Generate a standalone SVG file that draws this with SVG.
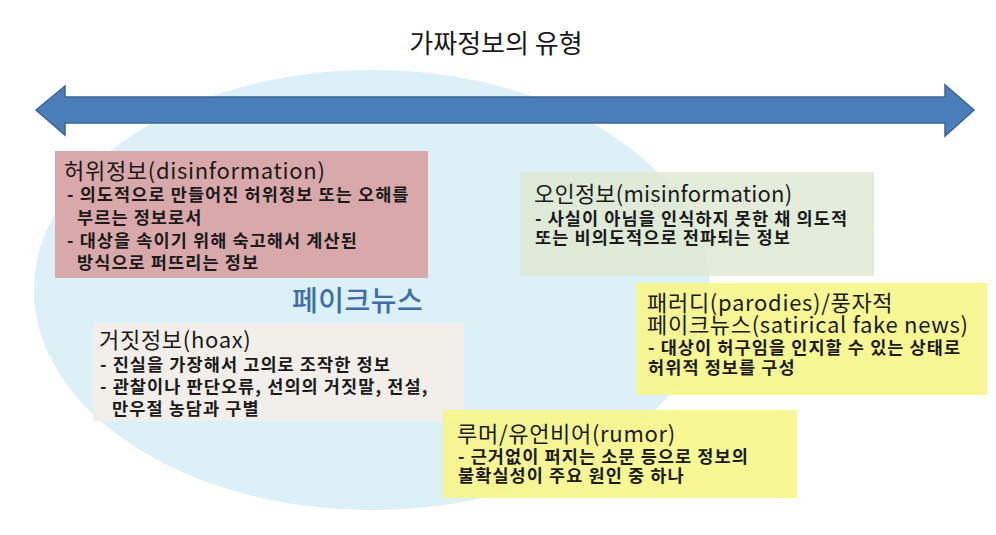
<svg xmlns="http://www.w3.org/2000/svg" width="996" height="535" viewBox="0 0 996 535">
<style>
text{font-family:"Noto Sans CJK KR","Noto Sans",sans-serif;fill:#1a1a1a}
.h{font-size:22px;font-weight:400;letter-spacing:0.7px}
.b{font-size:17.5px;font-weight:700;letter-spacing:1.1px}
.title{font-size:26px;font-weight:400}
.fk{font-size:28px;font-weight:500;fill:#3d6ea8;letter-spacing:0.5px}
</style>
<rect width="996" height="535" fill="#ffffff"/>
<g id="fake-news-area">
<ellipse cx="372" cy="290" rx="338" ry="220" fill="#dcf0f8"/>
<text class="fk" x="292" y="311">페이크뉴스</text>
</g>
<g id="title">
<text class="title" x="496" y="53" text-anchor="middle">가짜정보의 유형</text>
</g>
<g id="connectors">
<polygon points="36,110 65,86 65,97 945,97 945,85 974,110 945,136 945,123 65,123 65,135" fill="#4a7ebb" stroke="#3a6592" stroke-width="1.5" stroke-linejoin="miter"/>
</g>
<g id="disinformation">
<rect x="55" y="151" width="373" height="127" fill="#d9a8aa"/>
<text class="h" x="64" y="179">허위정보(disinformation)</text>
<text class="b" x="67" y="201">- 의도적으로 만들어진 허위정보 또는 오해를</text>
<text class="b" x="77" y="224">부르는 정보로서</text>
<text class="b" x="67" y="247">- 대상을 속이기 위해 숙고해서 계산된</text>
<text class="b" x="77" y="269">방식으로 퍼뜨리는 정보</text>
</g>
<g id="misinformation">
<rect x="520" y="172" width="354" height="104" fill="#dfe9d4" fill-opacity="0.85"/>
<text class="h" x="534" y="202" style="letter-spacing:0.2px">오인정보(misinformation)</text>
<text class="b" x="535" y="225">- 사실이 아님을 인식하지 못한 채 의도적</text>
<text class="b" x="535" y="244">또는 비의도적으로 전파되는 정보</text>
</g>
<g id="hoax">
<rect x="93" y="323" width="371" height="98" fill="#f2efea"/>
<text class="h" x="99" y="348">거짓정보(hoax)</text>
<text class="b" x="100" y="371">- 진실을 가장해서 고의로 조작한 정보</text>
<text class="b" x="100" y="393">- 관찰이나 판단오류, 선의의 거짓말, 전설,</text>
<text class="b" x="112" y="415">만우절 농담과 구별</text>
</g>
<g id="parodies">
<rect x="636" y="283" width="351" height="112" fill="#f6f68a" fill-opacity="0.92"/>
<text class="h" x="647" y="311">패러디(parodies)/풍자적</text>
<text class="h" x="647" y="333">페이크뉴스(satirical fake news)</text>
<text class="b" x="648" y="354">- 대상이 허구임을 인지할 수 있는 상태로</text>
<text class="b" x="648" y="374">허위적 정보를 구성</text>
</g>
<g id="rumor">
<rect x="443" y="410" width="354" height="88" fill="#f6f68a" fill-opacity="0.92"/>
<text class="h" x="457" y="442">루머/유언비어(rumor)</text>
<text class="b" x="458" y="463">- 근거없이 퍼지는 소문 등으로 정보의</text>
<text class="b" x="458" y="482">불확실성이 주요 원인 중 하나</text>
</g>
</svg>
